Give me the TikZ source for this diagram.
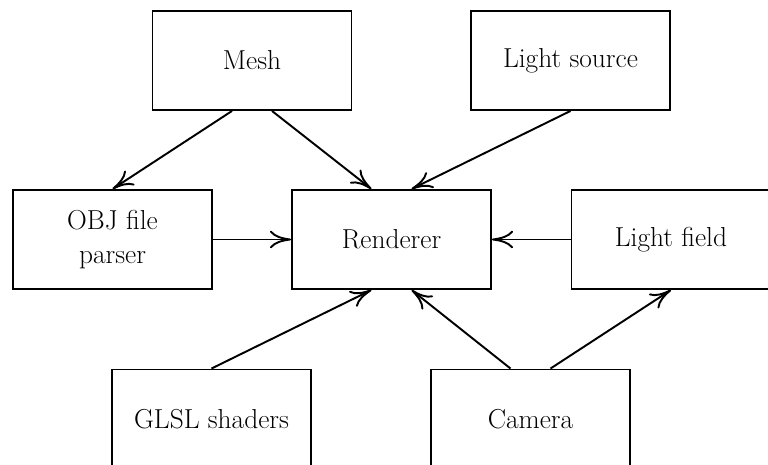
\documentclass[tikz,border=0pt]{standalone}
\usetikzlibrary{arrows.meta}
\begin{document}
\begin{tikzpicture}[
  box/.style={draw, line width=1.1pt, minimum width=3.98cm, minimum height=1.98cm, inner sep=2pt, align=center, font=\fontsize{15.6}{19}\selectfont},
  conn/.style={-{To[length=12pt,width=10pt]}, line width=1.1pt}
]
\useasboundingbox (0,0) rectangle (15.36,9.3);
\clip (0,0) rectangle (15.36,9.3);
\node[box] (mesh) at (5.04,8.09) {Mesh};
\node[box] (light) at (11.41,8.09) {Light source};
\node[box] (obj) at (2.25,4.51) {OBJ file\\parser};
\node[box] (rend) at (7.83,4.51) {Renderer};
\node[box] (field) at (13.42,4.51) {Light field};
\node[box] (glsl) at (4.23,0.92) {GLSL shaders};
\node[box] (cam) at (10.61,0.92) {Camera};
\draw[conn] ([xshift=-0.4cm]mesh.south) -- (obj.north);
\draw[conn] ([xshift=0.4cm]mesh.south) -- ([xshift=-0.4cm]rend.north);
\draw[conn] (light.south) -- ([xshift=0.4cm]rend.north);
\draw[conn] (obj.east) -- (rend.west);
\draw[conn] (field.west) -- (rend.east);
\draw[conn] (glsl.north) -- ([xshift=-0.4cm]rend.south);
\draw[conn] ([xshift=-0.4cm]cam.north) -- ([xshift=0.4cm]rend.south);
\draw[conn] ([xshift=0.4cm]cam.north) -- (field.south);
\end{tikzpicture}
\end{document}
